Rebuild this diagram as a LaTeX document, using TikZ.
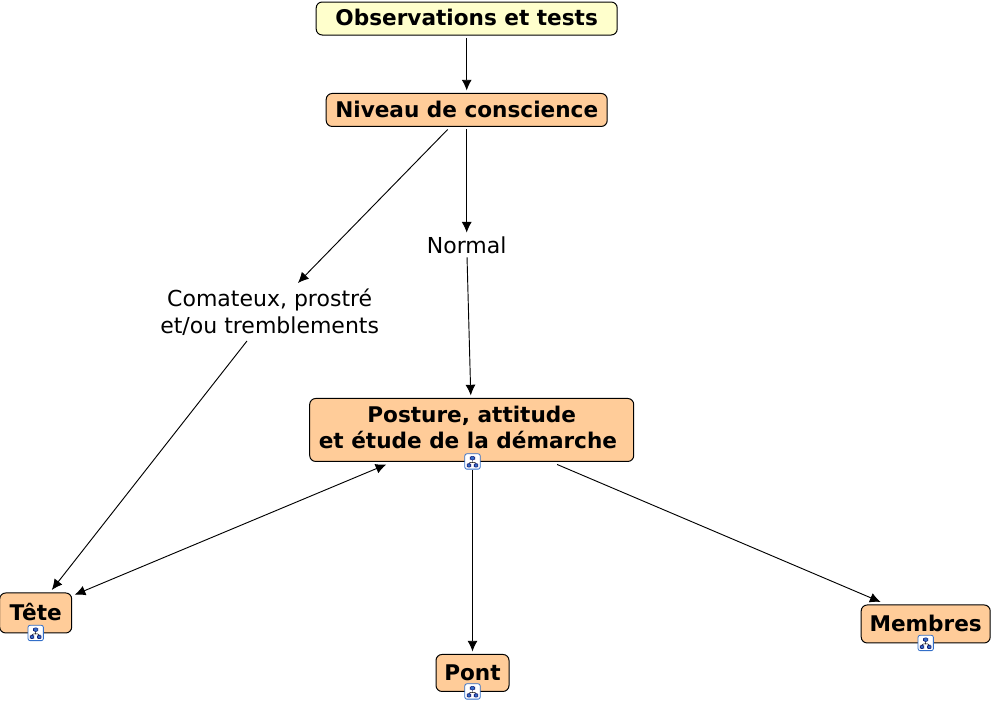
\documentclass[tikz,border=0pt]{standalone}
\usepackage{xcolor}
\usepackage{fontspec}
\setmainfont{DejaVu Sans}
\usepackage{tikz}
\usetikzlibrary{arrows.meta,positioning}
\definecolor{peach}{RGB}{255,204,153}
\definecolor{cream}{RGB}{255,255,204}
\definecolor{iconblue}{RGB}{50,110,200}
\definecolor{icondark}{RGB}{20,30,120}

\begin{document}
\begin{tikzpicture}[
  x=.75pt, y=-.75pt,
  on grid,
  box/.style={draw, rounded corners=4.5pt, align=center, inner sep=0pt, outer sep=2.25pt, line width=.75pt, font=\bfseries\fontsize{16.2}{20.2}\selectfont, fill=peach},
  rootbox/.style={box, fill=cream},
  oneline/.style={text height=15pt, text depth=3.8pt},
  answer/.style={align=center, inner sep=0pt, outer sep=2.25pt, font=\fontsize{16.5}{20.2}\selectfont},
  treeicon/.style={draw=iconblue, fill=white, rounded corners=1.5pt, line width=.6pt, minimum size=11.5pt, inner sep=0pt, outer sep=.8pt,
    path picture={
      \draw[-, black, line width=.35pt] ([yshift=2pt]path picture bounding box.center) -- ++(0,-3pt) ([xshift=-2.7pt,yshift=-2.2pt]path picture bounding box.center) |- ++(5.4pt,1.6pt) -- ++(0,-1.6pt);
      \filldraw[-, fill=iconblue, draw=icondark, line width=.4pt] ([xshift=-1.7pt,yshift=1.1pt]path picture bounding box.center) rectangle ++(3.4pt,2.8pt);
      \filldraw[-, fill=iconblue, draw=icondark, line width=.4pt] ([xshift=-4.1pt,yshift=-4.3pt]path picture bounding box.center) rectangle ++(2.8pt,2.6pt);
      \filldraw[-, fill=iconblue, draw=icondark, line width=.4pt] ([xshift=1.3pt,yshift=-4.3pt]path picture bounding box.center) rectangle ++(2.8pt,2.6pt);
    }},
  every path/.style={-{Latex[length=8pt, width=7.5pt]}, line width=.7pt}
]
\useasboundingbox (0,0) rectangle (992,703);

\node[rootbox, oneline, minimum width=225.75pt, minimum height=24.75pt] (obs) at (466.7,18.5) {Observations et tests};
\node[box, oneline, below=68.6pt of obs, minimum width=210.75pt, minimum height=24.75pt] (niv) {Niveau de conscience};
\node[answer, below=101.25pt of niv, minimum height=14pt] (normal) {Normal};
\node[answer, below left=151.5pt and 147.75pt of niv, minimum height=39pt] (coma) {Comateux, prostré\\et/ou tremblements};
\node[box, below=138.75pt of normal, xshift=3.75pt, minimum width=243pt, minimum height=47.25pt, text depth=4pt] (post) {Posture, attitude\\et étude de la démarche~\mbox{}};
\node[box, oneline, below left=137.25pt and 327pt of post, minimum width=54pt, minimum height=30pt] (tete) {Tête};
\node[box, oneline, below=182.25pt of post, xshift=.6pt, minimum width=54.75pt, minimum height=27.75pt] (pont) {Pont};
\node[box, oneline, below right=145.5pt and 340.5pt of post, minimum width=96.75pt, minimum height=28.5pt] (memb) {Membres};

\node[treeicon] (posticon) at ([xshift=.6pt,yshift=2.25pt]post.south) {};
\node[treeicon] (teteicon) at ([yshift=2.25pt]tete.south) {};
\node[treeicon] (ponticon) at ([yshift=2.25pt]pont.south) {};
\node[treeicon] (membicon) at ([yshift=2.25pt]memb.south) {};

\draw (obs) -- (niv);
\draw (niv) -- (normal);
\draw (niv) -- (coma);
\draw (normal) -- (post);
\draw (coma) -- (tete.55);
\draw[{Latex[length=8pt, width=7.5pt]}-{Latex[length=8pt, width=7.5pt]}] (post.202.2) -- (tete.25);
\draw (posticon) -- (pont);
\draw (post.-22.7) -- (memb.154);
\end{tikzpicture}
\end{document}
